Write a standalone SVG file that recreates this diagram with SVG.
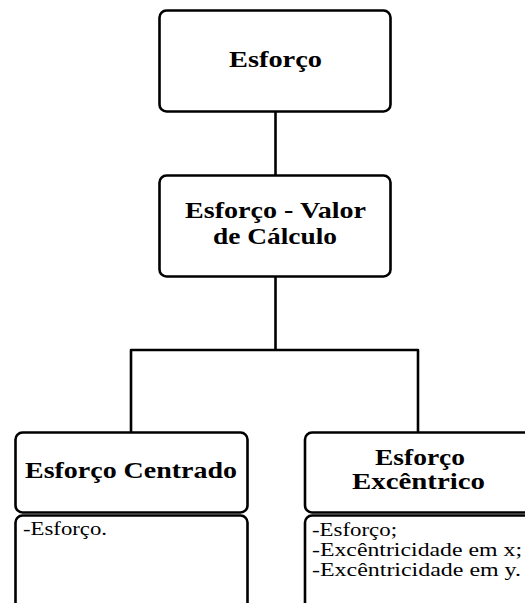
<svg xmlns="http://www.w3.org/2000/svg" width="525" height="603" viewBox="0 0 525 603">
<style>
.box{fill:#fff;stroke:#000;stroke-width:2.6}
.con{fill:none;stroke:#000;stroke-width:2.6;stroke-linejoin:round}
.t{font-family:"Liberation Serif","Times New Roman",serif;font-weight:bold;font-size:24px;fill:#000}
.c{font-family:"Liberation Serif","Times New Roman",serif;font-size:18.5px;fill:#000}
</style>
<rect width="525" height="603" fill="#fff"/>
<g id="connectors">
<line class="con" x1="275.5" y1="112" x2="275.5" y2="175"/>
<polyline class="con" points="131,432 131,350 418,350 418,432"/>
<line class="con" x1="275.5" y1="277" x2="275.5" y2="350"/>
</g>
<g id="esforco">
<rect class="box" x="159.5" y="10.5" width="231" height="101" rx="7"/>
<text class="t" x="229" y="67" textLength="93" lengthAdjust="spacingAndGlyphs">Esforço</text>
</g>
<g id="valor-calculo">
<rect class="box" x="159.5" y="175.5" width="231" height="101" rx="7"/>
<text class="t" x="185" y="218" textLength="181" lengthAdjust="spacingAndGlyphs">Esforço - Valor</text>
<text class="t" x="213" y="244" textLength="124" lengthAdjust="spacingAndGlyphs">de Cálculo</text>
</g>
<g id="centrado">
<rect class="box" x="15.5" y="432.5" width="232" height="80" rx="7"/>
<text class="t" x="25" y="478" textLength="212" lengthAdjust="spacingAndGlyphs">Esforço Centrado</text>
<rect class="box" x="15.5" y="515.5" width="232" height="110" rx="7"/>
<text class="c" x="23" y="535" textLength="84" lengthAdjust="spacingAndGlyphs">-Esforço.</text>
</g>
<g id="excentrico">
<rect class="box" x="305" y="432.5" width="228" height="80" rx="7"/>
<text class="t" x="375" y="465" textLength="90" lengthAdjust="spacingAndGlyphs">Esforço</text>
<text class="t" x="352" y="489" textLength="133" lengthAdjust="spacingAndGlyphs">Excêntrico</text>
<rect class="box" x="305" y="515.5" width="228" height="110" rx="7"/>
<text class="c" x="312" y="536" textLength="85" lengthAdjust="spacingAndGlyphs">-Esforço;</text>
<text class="c" x="312" y="556" textLength="210" lengthAdjust="spacingAndGlyphs">-Excêntricidade em x;</text>
<text class="c" x="312" y="576" textLength="209" lengthAdjust="spacingAndGlyphs">-Excêntricidade em y.</text>
</g>
</svg>
